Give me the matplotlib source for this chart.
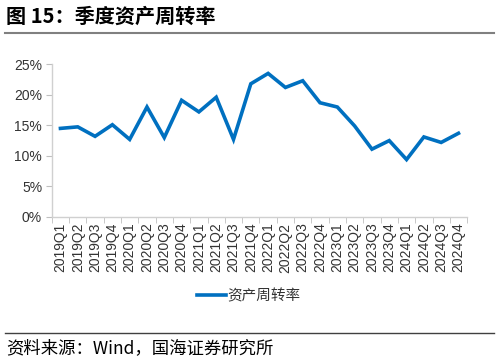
import matplotlib
matplotlib.use("Agg")
import matplotlib.pyplot as plt
import numpy as np

plt.rcParams['font.family'] = ['Liberation Sans', 'Noto Sans CJK SC', 'DejaVu Sans']

quarters = ['2019Q1', '2019Q2', '2019Q3', '2019Q4',
            '2020Q1', '2020Q2', '2020Q3', '2020Q4',
            '2021Q1', '2021Q2', '2021Q3', '2021Q4',
            '2022Q1', '2022Q2', '2022Q3', '2022Q4',
            '2023Q1', '2023Q2', '2023Q3', '2023Q4',
            '2024Q1', '2024Q2', '2024Q3', '2024Q4']
turnover = [14.5, 14.75, 13.2, 15.1,
            12.7, 18.0, 13.0, 19.1,
            17.2, 19.6, 12.7, 21.8,
            23.5, 21.2, 22.3, 18.7,
            18.0, 14.9, 11.1, 12.5,
            9.4, 13.1, 12.2, 13.7]
yticks = [0, 5, 10, 15, 20, 25]

fig = plt.figure(figsize=(4.98, 3.61), dpi=100)

# title + rules
fig.text(0.012, 0.955, '图 15：季度资产周转率', fontsize=14.5, fontweight='bold',
         family=['Noto Sans CJK SC'], va='center', ha='left')
fig.add_artist(plt.Line2D([0.01, 0.992], [0.908, 0.908], color='#808080', lw=1.5))
fig.add_artist(plt.Line2D([0.01, 0.992], [0.078, 0.078], color='#404040', lw=1.0))
fig.text(0.012, 0.037, '资料来源：Wind，国海证券研究所', fontsize=12.5,
         family=['Noto Sans CJK SC'], va='center', ha='left')

ax = fig.add_axes([0.104, 0.399, 0.834, 0.423])
x = np.arange(len(quarters))
ax.plot(x, turnover, color='#0070C0', lw=2.6, label='资产周转率', solid_joinstyle='miter')

ax.set_xlim(-0.5, len(quarters) - 0.5)
ax.set_ylim(0, 25)
ax.set_yticks(yticks)
ax.set_yticklabels([f'{v}%' for v in yticks], fontsize=10, color='#333333')
ax.set_xticks(x)
ax.set_xticklabels(quarters, rotation=90, fontsize=10, color='#333333')
ax.set_xticks(np.arange(-0.5, len(quarters)), minor=True)
ax.tick_params(axis='x', which='major', length=0, pad=4)
ax.tick_params(axis='x', which='minor', length=4, color='#BFBFBF', direction='out')
ax.tick_params(axis='y', length=4, color='#BFBFBF', direction='out', pad=3)

for s in ['top', 'right']:
    ax.spines[s].set_visible(False)
for s in ['left', 'bottom']:
    ax.spines[s].set_color('#D0D0D0')
    ax.spines[s].set_linewidth(1.0)

leg = fig.legend(loc='center', bbox_to_anchor=(0.50, 0.18), frameon=False,
                 prop={'family': ['Noto Sans CJK SC'], 'size': 10.5},
                 handlelength=2.0, handletextpad=0.1)
for t in leg.get_texts():
    t.set_color('#333333')

fig.savefig('out.png', dpi=100)
